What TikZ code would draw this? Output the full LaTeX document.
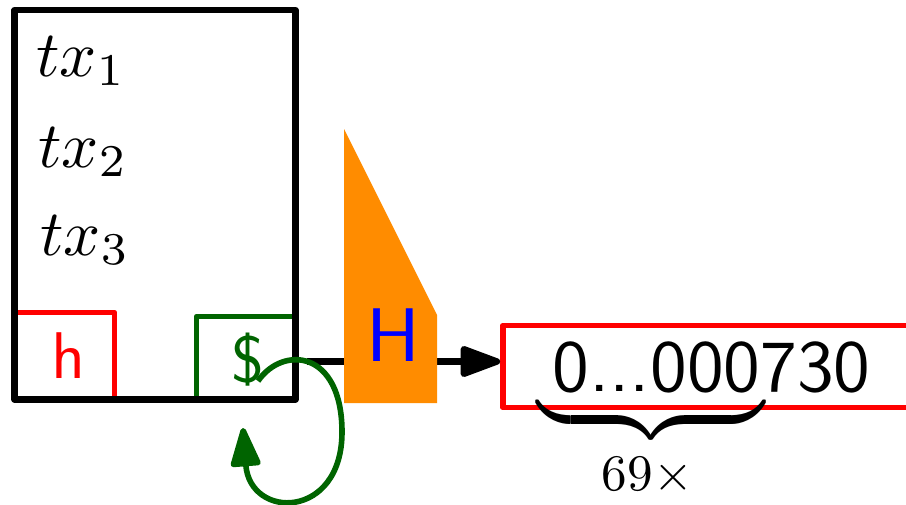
\documentclass[tikz,border=0pt]{standalone}
\usepackage{fontspec}
\usetikzlibrary{arrows.meta,fit}
\definecolor{dgreen}{RGB}{0,100,0}
\definecolor{horange}{RGB}{255,140,0}
\tikzset{
  box/.style={draw, inner sep=0pt, line width=2.9pt, line join=round},
  lbl/.style={inner sep=0pt, font=\sffamily},
  mth/.style={inner sep=0pt, anchor=base west, scale=3.25},
}
\begin{document}
\begin{tikzpicture}[x=0.5pt,y=-0.5pt]
\clip (0,0) rectangle (906,504);
% boxes
\node[box, red, fit={(14.5,312.5) (114.5,399.5)}] (hbox) {};
\node[box, dgreen, fit={(196.5,316.5) (295.5,399.5)}] (dbox) {};
\node[box, black, line width=3.2pt, fit={(14.5,10) (295.5,399.5)}] (block) {};
\node[lbl, red, scale=3.3] (hlbl) at (69,356) {h};
\node[lbl, dgreen, scale=3.3] (dlbl) at (248,360) {\$};
% transactions
\node[mth] (tx1) at (35,76) {$tx_1$};
\node[mth] (tx2) at (37,167) {$tx_2$};
\node[mth] (tx3) at (39,255) {$tx_3$};
% result
\node[box, red, fit={(503,325.5) (940,407.5)}] (result) {};
\node[lbl, scale=3.67] (num) at (711.5,367.5) {0...000730};
% connector
\coordinate (out) at (307,361.5);
\draw[line width=3.2pt, -{Triangle[length=23pt,width=16pt,round]}] (out) -- (out -| result.west);
% hash
\fill[horange] (344,129) -- (344,403) -- (437,403) -- (437,315) -- cycle;
\node[lbl, blue, scale=3.8] (H) at (393.5,335.5) {H};
% brace
\node[inner sep=0pt, anchor=north, scale=3.67] (brace) at (651,392) {$\underbrace{\hbox to 30.8pt{}}$};
\node[inner sep=0pt, anchor=base, scale=2.56] (n69) at (647.5,490) {$69\times$};
% loop
\coordinate (ls) at (258,381);
\coordinate (le) at (243,428);
\draw[dgreen, line width=2.8pt, -{Triangle[length=22pt,width=15.5pt,round]}]
  (ls) .. controls (283,345) and (342,350) .. (342,432)
       .. controls (342,520) and (250,520) .. (le);
\end{tikzpicture}
\end{document}
